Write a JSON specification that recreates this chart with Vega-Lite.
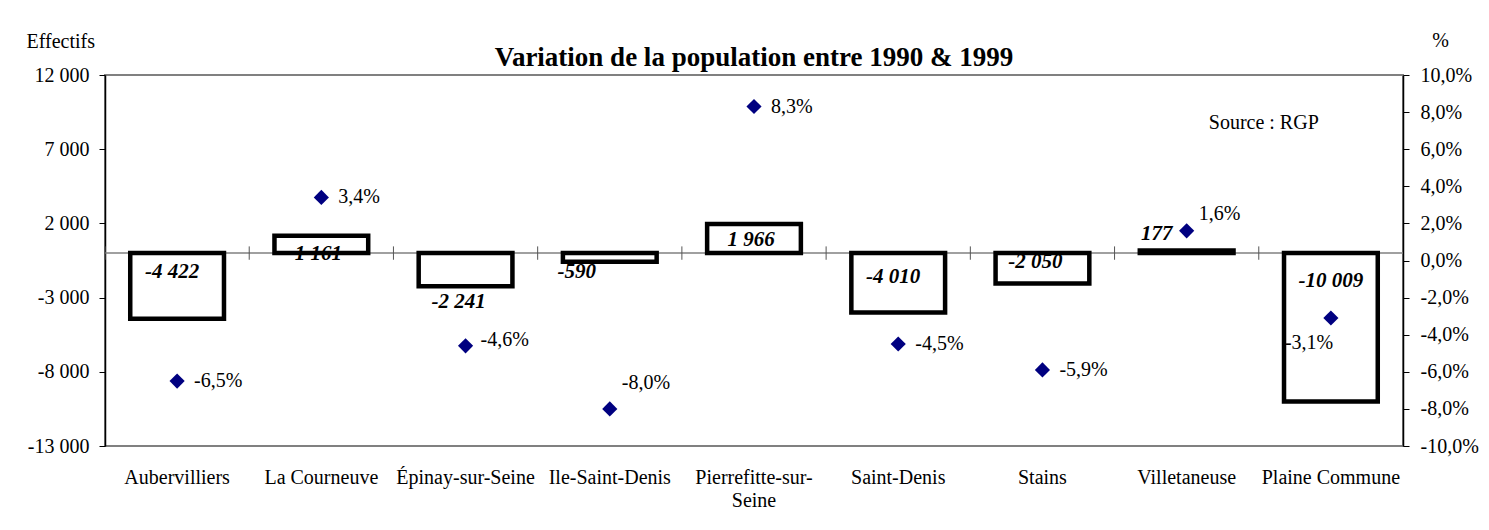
{
  "$schema": "https://vega.github.io/schema/vega-lite/v6.json",
  "width": 1298,
  "height": 371,
  "autosize": {"type": "none"},
  "padding": {"left": 105, "top": 75, "right": 86, "bottom": 84},
  "background": "white",
  "config": {
    "locale": {"number": {"decimal": ",", "thousands": " ", "grouping": [3], "currency": ["", " €"], "minus": "-"}},
    "font": "Liberation Serif",
    "view": {"stroke": "#808080", "strokeWidth": 2},
    "text": {"font": "Liberation Serif", "color": "#000"},
    "axis": {"labelFont": "Liberation Serif", "titleFont": "Liberation Serif", "labelColor": "#000", "titleColor": "#000", "labelFontSize": 20, "titleFontSize": 20, "titleFontWeight": "normal", "grid": false, "labelOverlap": false}
  },
  "title": {"text": "Variation de la population entre 1990 & 1999", "font": "Liberation Serif", "fontSize": 27, "fontWeight": "bold", "anchor": "middle", "frame": "group", "offset": 8, "dy": 50, "color": "#000"},
  "data": {"values": [
    {"commune": "Aubervilliers", "effectif": -4422, "pct": -0.065},
    {"commune": "La Courneuve", "effectif": 1161, "pct": 0.034},
    {"commune": "Épinay-sur-Seine", "effectif": -2241, "pct": -0.046},
    {"commune": "Ile-Saint-Denis", "effectif": -590, "pct": -0.080},
    {"commune": "Pierrefitte-sur-Seine", "effectif": 1966, "pct": 0.083},
    {"commune": "Saint-Denis", "effectif": -4010, "pct": -0.045},
    {"commune": "Stains", "effectif": -2050, "pct": -0.059},
    {"commune": "Villetaneuse", "effectif": 177, "pct": 0.016},
    {"commune": "Plaine Commune", "effectif": -10009, "pct": -0.031}
  ]},
  "layer": [
    {
      "layer": [
        {
          "transform": [{"filter": "datum.commune === 'Aubervilliers'"}],
          "mark": {"type": "rule", "color": "#808080", "strokeWidth": 1.5},
          "encoding": {
            "y": {"datum": 0, "type": "quantitative", "scale": {"domain": [-13000, 12000], "nice": false, "zero": false},
              "axis": {"orient": "left", "values": [-13000, -8000, -3000, 2000, 7000, 12000], "tickCount": 20, "format": ",.0f", "domainColor": "#000", "domainWidth": 1.5, "tickColor": "#000", "tickSize": 6, "labelPadding": 10,
                "title": "Effectifs", "titleAngle": 0, "titleAlign": "left", "titleBaseline": "middle", "titleX": -79, "titleY": -34}}
          }
        },
        {
          "mark": {"type": "rule", "color": "#555", "strokeWidth": 1},
          "encoding": {
            "x": {"field": "commune", "type": "nominal", "sort": null, "bandPosition": 0, "scale": {"paddingInner": 0, "paddingOuter": 0},
              "axis": {"orient": "bottom", "title": null, "domain": false, "ticks": false, "tickSize": 0, "bandPosition": 0.5, "labelAngle": 0, "labelAlign": "center", "labelBaseline": "top", "labelPadding": 21, "labelLineHeight": 23,
                "labelExpr": "datum.label == 'Pierrefitte-sur-Seine' ? ['Pierrefitte-sur-', 'Seine'] : datum.label"}},
            "y": {"datum": 450, "type": "quantitative", "scale": {"domain": [-13000, 12000], "nice": false, "zero": false}},
            "y2": {"datum": -450}
          }
        },
        {
          "mark": {"type": "bar", "fill": "white", "stroke": "#000", "strokeWidth": 4.5, "width": {"band": 0.65}},
          "encoding": {
            "x": {"field": "commune", "type": "nominal", "sort": null, "scale": {"paddingInner": 0, "paddingOuter": 0},
              "axis": {"orient": "bottom", "title": null, "domain": false, "ticks": false, "tickSize": 0, "bandPosition": 0.5, "labelAngle": 0, "labelAlign": "center", "labelBaseline": "top", "labelPadding": 21, "labelLineHeight": 23,
                "labelExpr": "datum.label == 'Pierrefitte-sur-Seine' ? ['Pierrefitte-sur-', 'Seine'] : datum.label"}},
            "y": {"field": "effectif", "type": "quantitative", "scale": {"domain": [-13000, 12000], "nice": false, "zero": false}},
            "y2": {"datum": 0}
          }
        },
        {
          "transform": [{"filter": "datum.commune === 'Aubervilliers'"}],
          "mark": {"type": "text", "fontStyle": "italic", "fontWeight": "bold", "fontSize": 21, "baseline": "middle", "dx": -5, "dy": 19},
          "encoding": {
            "x": {"field": "commune", "type": "nominal", "sort": null, "scale": {"paddingInner": 0, "paddingOuter": 0}},
            "y": {"datum": 0, "type": "quantitative", "scale": {"domain": [-13000, 12000], "nice": false, "zero": false}},
            "text": {"field": "effectif", "type": "quantitative", "format": ","}
          }
        },
        {
          "transform": [{"filter": "datum.commune === 'La Courneuve'"}],
          "mark": {"type": "text", "fontStyle": "italic", "fontWeight": "bold", "fontSize": 21, "baseline": "middle", "dx": -3, "dy": 1},
          "encoding": {
            "x": {"field": "commune", "type": "nominal", "sort": null, "scale": {"paddingInner": 0, "paddingOuter": 0}},
            "y": {"datum": 0, "type": "quantitative", "scale": {"domain": [-13000, 12000], "nice": false, "zero": false}},
            "text": {"field": "effectif", "type": "quantitative", "format": ","}
          }
        },
        {
          "transform": [{"filter": "datum.commune === 'Épinay-sur-Seine'"}],
          "mark": {"type": "text", "fontStyle": "italic", "fontWeight": "bold", "fontSize": 21, "baseline": "middle", "dx": -7, "dy": 49},
          "encoding": {
            "x": {"field": "commune", "type": "nominal", "sort": null, "scale": {"paddingInner": 0, "paddingOuter": 0}},
            "y": {"datum": 0, "type": "quantitative", "scale": {"domain": [-13000, 12000], "nice": false, "zero": false}},
            "text": {"field": "effectif", "type": "quantitative", "format": ","}
          }
        },
        {
          "transform": [{"filter": "datum.commune === 'Ile-Saint-Denis'"}],
          "mark": {"type": "text", "fontStyle": "italic", "fontWeight": "bold", "fontSize": 21, "baseline": "middle", "dx": -33, "dy": 19},
          "encoding": {
            "x": {"field": "commune", "type": "nominal", "sort": null, "scale": {"paddingInner": 0, "paddingOuter": 0}},
            "y": {"datum": 0, "type": "quantitative", "scale": {"domain": [-13000, 12000], "nice": false, "zero": false}},
            "text": {"field": "effectif", "type": "quantitative", "format": ","}
          }
        },
        {
          "transform": [{"filter": "datum.commune === 'Pierrefitte-sur-Seine'"}],
          "mark": {"type": "text", "fontStyle": "italic", "fontWeight": "bold", "fontSize": 21, "baseline": "middle", "dx": -3, "dy": -13},
          "encoding": {
            "x": {"field": "commune", "type": "nominal", "sort": null, "scale": {"paddingInner": 0, "paddingOuter": 0}},
            "y": {"datum": 0, "type": "quantitative", "scale": {"domain": [-13000, 12000], "nice": false, "zero": false}},
            "text": {"field": "effectif", "type": "quantitative", "format": ","}
          }
        },
        {
          "transform": [{"filter": "datum.commune === 'Saint-Denis'"}],
          "mark": {"type": "text", "fontStyle": "italic", "fontWeight": "bold", "fontSize": 21, "baseline": "middle", "dx": -5, "dy": 24},
          "encoding": {
            "x": {"field": "commune", "type": "nominal", "sort": null, "scale": {"paddingInner": 0, "paddingOuter": 0}},
            "y": {"datum": 0, "type": "quantitative", "scale": {"domain": [-13000, 12000], "nice": false, "zero": false}},
            "text": {"field": "effectif", "type": "quantitative", "format": ","}
          }
        },
        {
          "transform": [{"filter": "datum.commune === 'Stains'"}],
          "mark": {"type": "text", "fontStyle": "italic", "fontWeight": "bold", "fontSize": 21, "baseline": "middle", "dx": -7, "dy": 9},
          "encoding": {
            "x": {"field": "commune", "type": "nominal", "sort": null, "scale": {"paddingInner": 0, "paddingOuter": 0}},
            "y": {"datum": 0, "type": "quantitative", "scale": {"domain": [-13000, 12000], "nice": false, "zero": false}},
            "text": {"field": "effectif", "type": "quantitative", "format": ","}
          }
        },
        {
          "transform": [{"filter": "datum.commune === 'Villetaneuse'"}],
          "mark": {"type": "text", "fontStyle": "italic", "fontWeight": "bold", "fontSize": 21, "baseline": "middle", "dx": -30, "dy": -19},
          "encoding": {
            "x": {"field": "commune", "type": "nominal", "sort": null, "scale": {"paddingInner": 0, "paddingOuter": 0}},
            "y": {"datum": 0, "type": "quantitative", "scale": {"domain": [-13000, 12000], "nice": false, "zero": false}},
            "text": {"field": "effectif", "type": "quantitative", "format": ","}
          }
        },
        {
          "transform": [{"filter": "datum.commune === 'Plaine Commune'"}],
          "mark": {"type": "text", "fontStyle": "italic", "fontWeight": "bold", "fontSize": 21, "baseline": "middle", "dx": 0, "dy": 28},
          "encoding": {
            "x": {"field": "commune", "type": "nominal", "sort": null, "scale": {"paddingInner": 0, "paddingOuter": 0}},
            "y": {"datum": 0, "type": "quantitative", "scale": {"domain": [-13000, 12000], "nice": false, "zero": false}},
            "text": {"field": "effectif", "type": "quantitative", "format": ","}
          }
        },
        {
          "transform": [{"filter": "datum.commune === 'Plaine Commune'"}],
          "mark": {"type": "text", "fontSize": 20, "baseline": "middle", "align": "center", "dx": 5, "dy": 3},
          "encoding": {
            "x": {"datum": "Plaine Commune", "type": "nominal", "bandPosition": 0, "sort": null, "scale": {"paddingInner": 0, "paddingOuter": 0}},
            "y": {"datum": 9000, "type": "quantitative", "scale": {"domain": [-13000, 12000], "nice": false, "zero": false}},
            "text": {"value": "Source : RGP"}
          }
        }
      ]
    },
    {
      "layer": [
        {
          "mark": {"type": "point", "shape": "diamond", "filled": true, "color": "#000080", "opacity": 1, "size": 230},
          "encoding": {
            "x": {"field": "commune", "type": "nominal", "sort": null, "scale": {"paddingInner": 0, "paddingOuter": 0}},
            "y": {"field": "pct", "type": "quantitative", "scale": {"domain": [-0.1, 0.1], "nice": false, "zero": false},
              "axis": {"orient": "right", "values": [-0.1, -0.08, -0.06, -0.04, -0.02, 0, 0.02, 0.04, 0.06, 0.08, 0.1], "tickCount": 20, "format": ".1%", "domainColor": "#000", "domainWidth": 1.5, "tickColor": "#000", "tickSize": 6, "labelPadding": 11, "labelOverlap": false,
                "title": "%", "titleAngle": 0, "titleAlign": "center", "titleBaseline": "middle", "titleX": 37, "titleY": -35}}
          }
        },
        {
          "transform": [{"filter": "indexof(['Aubervilliers','La Courneuve','Pierrefitte-sur-Seine','Saint-Denis','Stains'], datum.commune) >= 0"}],
          "mark": {"type": "text", "fontSize": 20, "baseline": "middle", "align": "left", "dx": 17, "dy": 0},
          "encoding": {
            "x": {"field": "commune", "type": "nominal", "sort": null, "scale": {"paddingInner": 0, "paddingOuter": 0}},
            "y": {"field": "pct", "type": "quantitative", "scale": {"domain": [-0.1, 0.1], "nice": false, "zero": false}},
            "text": {"field": "pct", "type": "quantitative", "format": ".1%"}
          }
        },
        {
          "transform": [{"filter": "datum.commune === 'Épinay-sur-Seine'"}],
          "mark": {"type": "text", "fontSize": 20, "baseline": "middle", "align": "left", "dx": 15, "dy": -6},
          "encoding": {
            "x": {"field": "commune", "type": "nominal", "sort": null, "scale": {"paddingInner": 0, "paddingOuter": 0}},
            "y": {"field": "pct", "type": "quantitative", "scale": {"domain": [-0.1, 0.1], "nice": false, "zero": false}},
            "text": {"field": "pct", "type": "quantitative", "format": ".1%"}
          }
        },
        {
          "transform": [{"filter": "datum.commune === 'Ile-Saint-Denis'"}],
          "mark": {"type": "text", "fontSize": 20, "baseline": "middle", "align": "left", "dx": 12, "dy": -26},
          "encoding": {
            "x": {"field": "commune", "type": "nominal", "sort": null, "scale": {"paddingInner": 0, "paddingOuter": 0}},
            "y": {"field": "pct", "type": "quantitative", "scale": {"domain": [-0.1, 0.1], "nice": false, "zero": false}},
            "text": {"field": "pct", "type": "quantitative", "format": ".1%"}
          }
        },
        {
          "transform": [{"filter": "datum.commune === 'Villetaneuse'"}],
          "mark": {"type": "text", "fontSize": 20, "baseline": "middle", "align": "left", "dx": 12, "dy": -17},
          "encoding": {
            "x": {"field": "commune", "type": "nominal", "sort": null, "scale": {"paddingInner": 0, "paddingOuter": 0}},
            "y": {"field": "pct", "type": "quantitative", "scale": {"domain": [-0.1, 0.1], "nice": false, "zero": false}},
            "text": {"field": "pct", "type": "quantitative", "format": ".1%"}
          }
        },
        {
          "transform": [{"filter": "datum.commune === 'Plaine Commune'"}],
          "mark": {"type": "text", "fontSize": 20, "baseline": "middle", "align": "left", "dx": -46, "dy": 25},
          "encoding": {
            "x": {"field": "commune", "type": "nominal", "sort": null, "scale": {"paddingInner": 0, "paddingOuter": 0}},
            "y": {"field": "pct", "type": "quantitative", "scale": {"domain": [-0.1, 0.1], "nice": false, "zero": false}},
            "text": {"field": "pct", "type": "quantitative", "format": ".1%"}
          }
        }
      ]
    }
  ],
  "resolve": {"scale": {"y": "independent"}}
}
